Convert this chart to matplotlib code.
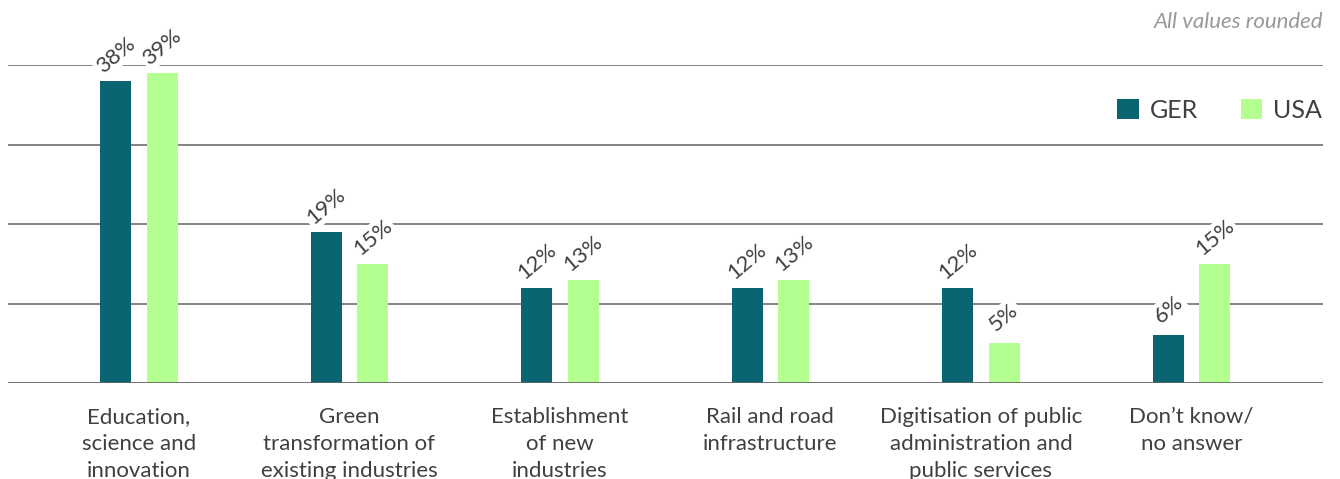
import numpy as np
import matplotlib.pyplot as plt

plt.rcParams['font.family'] = ['Lato', 'DejaVu Sans']

categories = ["Education,\nscience and\ninnovation",
              "Green\ntransformation of\nexisting industries",
              "Establishment\nof new\nindustries",
              "Rail and road\ninfrastructure",
              "Digitisation of public\nadministration and\npublic services",
              "Don\u2019t know/\nno answer"]
ger = [38, 19, 12, 12, 12, 6]
usa = [39, 15, 13, 13, 5, 15]
series_names = ["GER", "USA"]

c_ger = "#0b6472"
c_usa = "#b3ff8f"
txt = "#404040"

fig = plt.figure(figsize=(13.4, 4.79), dpi=100)
ax = fig.add_axes([8/1340, 1-383/479, 1315/1340, 318/479])

x = np.arange(len(categories))
w = 0.147
off = 0.11

b1 = ax.bar(x - off, ger, w, color=c_ger, zorder=3, label=series_names[0])
b2 = ax.bar(x + off, usa, w, color=c_usa, zorder=3, label=series_names[1])

ax.set_xlim(-0.622, 5.625)
ax.set_ylim(0, 40)
for yv in [10, 20, 30, 40]:
    ax.axhline(yv, color="#6e6e6e", lw=1.2, zorder=1)
ax.axhline(0, color="#666666", lw=2, zorder=4)

# rotated value labels with white box cutting the gridlines
for bars, vals in [(b1, ger), (b2, usa)]:
    for b, v in zip(bars, vals):
        ax.annotate(f"{v}%", (b.get_x() + b.get_width()/2, v),
                    xytext=(0, 26), textcoords="offset pixels",
                    ha="center", va="center", rotation=40, fontsize=16, color=txt,
                    bbox=dict(facecolor="white", edgecolor="none", pad=2),
                    zorder=5, annotation_clip=False)

ax.set_xticks(x)
ax.set_xticklabels(categories, fontsize=16, color=txt, linespacing=1.45)
ax.tick_params(axis="x", length=0, pad=17)
ax.set_yticks([])
for s in ax.spines.values():
    s.set_visible(False)

leg = ax.legend(loc="upper right", bbox_to_anchor=(1.0 + 9/1315, 0.925), ncol=2, frameon=False,
                fontsize=18, handlelength=0.85, handleheight=0.85, columnspacing=1.7,
                handletextpad=0.45, borderaxespad=0)
for t in leg.get_texts():
    t.set_color(txt)

fig.text(1323/1340, 1-22/479, "All values rounded", ha="right", va="center",
         fontsize=16, style="italic", color="#999999")

fig.savefig("out.png", dpi=100)
